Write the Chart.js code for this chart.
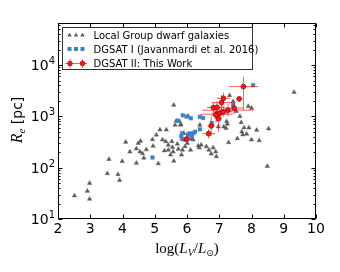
<!DOCTYPE html>
<html>
<head>
<meta charset="utf-8">
<script src="https://cdn.jsdelivr.net/npm/chart.js@4.4.1/dist/chart.umd.min.js"></script>
<style>
  html, body { margin: 0; padding: 0; background: #fff; }
  #wrap { width: 340px; height: 272px; }
</style>
</head>
<body>
<div id="wrap"><canvas id="sizeChart" width="340" height="272"></canvas></div>
<script>
// Local Group dwarf galaxies
const lgLum = [2.51, 2.91, 2.98, 2.98, 3.53, 3.58, 3.86, 3.91, 3.99, 4.10, 4.23, 4.43, 4.43, 4.49, 4.56, 4.54, 4.62, 4.66, 4.74, 4.93,
  4.95, 5.05, 5.11, 5.16, 5.24, 5.30, 5.34, 5.36, 5.42, 5.42, 5.49, 5.53, 5.55, 5.57, 5.59, 5.59, 5.63, 5.67, 5.70, 5.73,
  5.80, 5.83, 5.86, 5.90, 5.94, 6.03, 6.01, 6.05, 6.11, 6.19, 6.35, 6.38, 6.40, 6.44, 6.60, 6.68, 6.75, 6.81, 6.89, 6.91,
  6.97, 7.14, 7.21, 7.23, 7.25, 7.29, 7.32, 7.43, 7.53, 7.56, 7.64, 7.68, 7.70, 7.73, 7.77, 7.85, 7.90, 8.00, 7.92, 8.00,
  8.16, 8.24, 8.49, 8.53, 9.32, 5.76, 5.81];
const lgRe = [28.5, 35, 50, 24.5, 77, 146, 74, 57, 133, 315, 205, 123, 235, 300, 330, 205, 190, 155, 225, 355,
  265, 435, 120, 550, 350, 215, 325, 550, 222, 277, 178, 325, 250, 205, 135, 1660, 680, 825, 290, 230,
  680, 178, 222, 470, 260, 1020, 300, 435, 222, 350, 267, 245, 680, 277, 258, 222, 186, 245, 205, 165,
  630, 630, 590, 795, 710, 310, 2560, 1950, 1260, 370, 1000, 760, 500, 440, 600, 455, 1580, 1450, 600, 350,
  540, 340, 107, 575, 2950, 810, 700];

// DGSAT I (Javanmardi et al. 2016)
const dg1Lum = [4.93, 5.71, 5.87, 5.99, 6.12, 6.40, 6.50, 5.82, 5.86, 6.03, 6.09, 6.15, 6.20, 6.25, 6.40, 6.14, 5.94, 6.77, 7.43, 8.05, 5.85, 6.07];
const dg1Re = [158, 815, 1050, 990, 920, 980, 930, 415, 360, 440, 465, 410, 470, 500, 560, 365, 350, 740, 1690, 4060, 470, 455];

// DGSAT II: This Work
const dg2Lum = [5.99, 6.67, 6.75, 6.82, 6.93, 6.92, 6.98, 7.02, 7.07, 7.13, 7.12, 7.27, 7.46, 7.62, 7.75, 6.90];
const dg2Re = [360, 460, 650, 1480, 1500, 1100, 900, 1150, 1850, 2250, 1230, 1320, 1450, 2190, 3800, 1050];
const dg2LumErr = [0.22, 0.2, 0.12, 0.2, 0.25, 0.5, 0.1, 0.25, 0.3, 0.2, 0.3, 0.8, 0.3, 0.1, 0.45, 0.15];
const dg2ReLo = [290, 370, 420, 1150, 1150, 800, 500, 850, 1350, 1750, 950, 1000, 1100, 1900, 1350, 750];
const dg2ReHi = [450, 560, 1000, 1900, 2000, 1450, 1250, 1500, 2600, 2900, 1600, 1750, 1850, 2500, 5900, 1450];

const xTicks = [2, 3, 4, 5, 6, 7, 8, 9, 10];
const yTicks = [10, 100, 1000, 10000];
const yTickExp = ['1', '2', '3', '4'];

const legendLabels = ['Local Group dwarf galaxies', 'DGSAT I (Javanmardi et al. 2016)', 'DGSAT II: This Work'];

const GRAY = '#5c5c5c';
const BLUE = '#3f82c4';
const RED = '#ee1c1c';
const RED_EDGE = '#9a0a0a';
const ERR = 'rgba(255, 20, 20, 0.7)';

function pts(xs, ys) {
  return xs.map((x, i) => ({ x: x, y: ys[i] }));
}

const errorBars = {
  id: 'errorBars',
  beforeDatasetDraw(chart, args) {
    if (args.index !== 2) return;
    const { ctx, scales: { x, y } } = chart;
    ctx.save();
    ctx.strokeStyle = ERR;
    ctx.lineWidth = 1;
    dg2Lum.forEach((lx, i) => {
      const px = x.getPixelForValue(lx);
      const py = y.getPixelForValue(dg2Re[i]);
      ctx.beginPath();
      ctx.moveTo(x.getPixelForValue(lx - dg2LumErr[i]), py);
      ctx.lineTo(x.getPixelForValue(lx + dg2LumErr[i]), py);
      ctx.moveTo(px, y.getPixelForValue(dg2ReLo[i]));
      ctx.lineTo(px, y.getPixelForValue(dg2ReHi[i]));
      ctx.stroke();
    });
    ctx.restore();
  }
};

function drawTri(ctx, cx, cy) {
  ctx.beginPath();
  ctx.moveTo(cx, cy - 2.5);
  ctx.lineTo(cx + 2.2, cy + 1.5);
  ctx.lineTo(cx - 2.2, cy + 1.5);
  ctx.closePath();
  ctx.fillStyle = GRAY;
  ctx.fill();
}

// write a run of [text, font, dy] pieces, return total width
function runWidth(ctx, parts) {
  let w = 0;
  parts.forEach(p => { ctx.font = p[1]; w += ctx.measureText(p[0]).width; });
  return w;
}
function drawRun(ctx, parts, x, y) {
  parts.forEach(p => {
    ctx.font = p[1];
    ctx.fillText(p[0], x, y + p[2]);
    x += ctx.measureText(p[0]).width;
  });
}

const frame = {
  id: 'frame',
  afterDraw(chart) {
    const { ctx, chartArea: a, scales: { x, y } } = chart;
    const L = Math.round(a.left) + 0.5, R = Math.round(a.right) - 0.5;
    const T = Math.round(a.top) + 0.5, B = Math.round(a.bottom) - 0.5;
    ctx.save();
    ctx.strokeStyle = '#000';
    ctx.lineWidth = 1;
    ctx.strokeRect(L, T, R - L, B - T);

    // ticks inside on all four sides
    ctx.beginPath();
    xTicks.forEach(v => {
      const px = Math.round(x.getPixelForValue(v)) + 0.5;
      ctx.moveTo(px, B); ctx.lineTo(px, B - 4);
      ctx.moveTo(px, T); ctx.lineTo(px, T + 4);
    });
    yTicks.forEach(v => {
      const py = Math.round(y.getPixelForValue(v)) + 0.5;
      ctx.moveTo(L, py); ctx.lineTo(L + 4, py);
      ctx.moveTo(R, py); ctx.lineTo(R - 4, py);
      for (let m = 2; m <= 9; m++) {
        const mv = v * m;
        if (mv > y.max) break;
        const my = Math.round(y.getPixelForValue(mv)) + 0.5;
        ctx.moveTo(L, my); ctx.lineTo(L + 2, my);
        ctx.moveTo(R, my); ctx.lineTo(R - 2, my);
      }
    });
    ctx.stroke();

    // tick labels
    ctx.fillStyle = '#000';
    ctx.textBaseline = 'alphabetic';
    ctx.font = '14px "DejaVu Sans"';
    ctx.textAlign = 'center';
    xTicks.forEach(v => {
      ctx.fillText(String(v), x.getPixelForValue(v), 233);
    });
    ctx.textAlign = 'left';
    yTicks.forEach((v, i) => {
      const py = y.getPixelForValue(v);
      ctx.font = '10px "DejaVu Sans"';
      const sw = ctx.measureText(yTickExp[i]).width;
      ctx.fillText(yTickExp[i], 55 - sw, py - 1);
      ctx.font = '14px "DejaVu Sans"';
      const bw = ctx.measureText('10').width;
      ctx.fillText('10', 55 - sw - bw, py + 5);
    });

    // axis titles
    const serif = '"Liberation Serif", "DejaVu Serif", serif';
    const xParts = [
      ['log(', '15px ' + serif, 0],
      ['L', 'italic 15px ' + serif, 0],
      ['V', 'italic 10px ' + serif, 3],
      ['/', '15px ' + serif, 0],
      ['L', 'italic 15px ' + serif, 0],
      ['\u2299', '9px "DejaVu Sans"', 3],
      [')', '15px ' + serif, 0]
    ];
    const xw = runWidth(ctx, xParts);
    drawRun(ctx, xParts, 187 - xw / 2, 253);

    const yParts = [
      ['R', 'italic 16px ' + serif, 0],
      ['e', 'italic 11px ' + serif, 3],
      [' [pc]', '14px "DejaVu Sans"', 0]
    ];
    ctx.save();
    ctx.translate(17, 120);
    ctx.rotate(-Math.PI / 2);
    const yw = runWidth(ctx, yParts);
    drawRun(ctx, yParts, -yw / 2, 5);
    ctx.restore();

    // legend box
    ctx.fillStyle = '#fff';
    ctx.fillRect(62.5, 27.5, 190, 42);
    ctx.strokeStyle = '#333';
    ctx.strokeRect(62.5, 27.5, 190, 42);
    const rowY = [35, 49, 63];
    [69.5, 76, 82.5].forEach(mx => drawTri(ctx, mx, rowY[0]));
    ctx.fillStyle = BLUE;
    [69.5, 76, 82.5].forEach(mx => ctx.fillRect(mx - 2, rowY[1] - 2, 4, 4));
    ctx.strokeStyle = ERR;
    ctx.beginPath();
    ctx.moveTo(65, rowY[2] + 0.5); ctx.lineTo(87, rowY[2] + 0.5);
    [70, 82.5].forEach(mx => { ctx.moveTo(mx, rowY[2] - 4); ctx.lineTo(mx, rowY[2] + 5); });
    ctx.stroke();
    [70, 82.5].forEach(mx => {
      ctx.beginPath();
      ctx.arc(mx, rowY[2] + 0.5, 2.3, 0, Math.PI * 2);
      ctx.fillStyle = RED; ctx.fill();
      ctx.strokeStyle = RED_EDGE; ctx.lineWidth = 0.8; ctx.stroke();
    });
    ctx.fillStyle = '#000';
    ctx.font = '10px "DejaVu Sans"';
    legendLabels.forEach((t, i) => ctx.fillText(t, 93.5, rowY[i] + 3.5));
    ctx.restore();
  }
};

new Chart(document.getElementById('sizeChart').getContext('2d'), {
  type: 'scatter',
  data: {
    datasets: [
      {
        label: legendLabels[0],
        data: pts(lgLum, lgRe),
        pointStyle: 'triangle',
        pointRadius: 2.5,
        backgroundColor: GRAY,
        borderColor: GRAY,
        borderWidth: 0.5,
        order: 3
      },
      {
        label: legendLabels[1],
        data: pts(dg1Lum, dg1Re),
        pointStyle: 'rect',
        pointRadius: 2.7,
        backgroundColor: BLUE,
        borderColor: BLUE,
        borderWidth: 0.3,
        order: 2
      },
      {
        label: legendLabels[2],
        data: pts(dg2Lum, dg2Re),
        pointStyle: 'circle',
        pointRadius: 2.4,
        backgroundColor: RED,
        borderColor: RED_EDGE,
        borderWidth: 0.8,
        order: 1
      }
    ]
  },
  options: {
    responsive: false,
    animation: false,
    devicePixelRatio: 1,
    layout: { padding: { left: 58, right: 24, top: 23, bottom: 53 } },
    plugins: {
      legend: { display: false },
      tooltip: { enabled: false }
    },
    scales: {
      x: {
        type: 'linear', min: 2, max: 10,
        ticks: { display: false },
        grid: { display: false, drawTicks: false },
        border: { display: false }
      },
      y: {
        type: 'logarithmic', min: 10, max: 66000,
        ticks: { display: false },
        grid: { display: false, drawTicks: false },
        border: { display: false }
      }
    }
  },
  plugins: [errorBars, frame]
});
</script>
</body>
</html>
